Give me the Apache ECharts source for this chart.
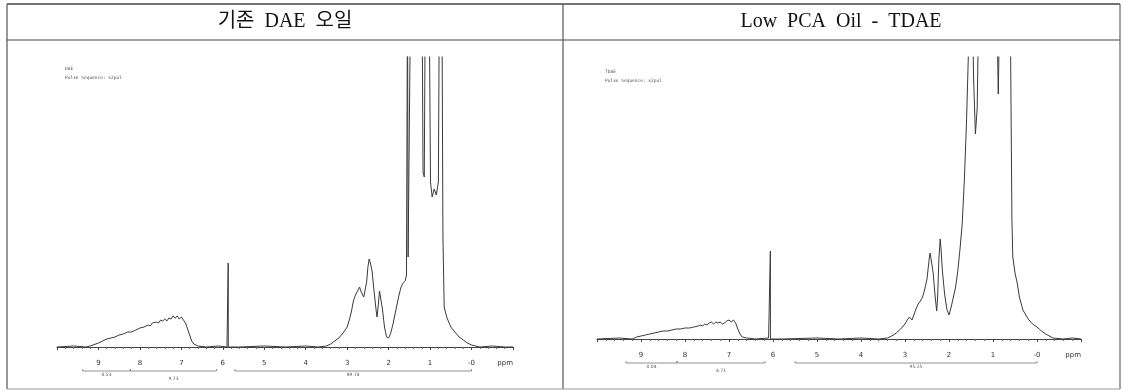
<!DOCTYPE html>
<html>
<head>
<meta charset="utf-8">
<script src="https://cdn.jsdelivr.net/npm/echarts/dist/echarts.min.js"></script>
<style>
  html, body { margin: 0; padding: 0; background: #fff; }
  #chart { width: 1122px; height: 391px; }
</style>
</head>
<body>
<div id="chart"></div>
<script>
// 헤더 (표 제목)
const titles = ['기존  DAE  오일', 'Low  PCA  Oil  -  TDAE'];
const sampleNames = ['DAE', 'TDAE'];
const pulseText = 'Pulse Sequence: s2pul';

// 1H NMR 스펙트럼 - 기존 DAE (ppm, 세기)
const ppmDAE = [10.0, 9.6, 9.3, 9.2, 9.0, 8.9, 8.8, 8.7, 8.6, 8.5, 8.4, 8.3, 8.2, 8.1, 8.0, 7.9, 7.8, 7.75, 7.7, 7.6,
  7.55, 7.5, 7.45, 7.4, 7.35, 7.3, 7.25, 7.2, 7.15, 7.1, 7.05, 7.0, 6.95, 6.9, 6.85, 6.8, 6.75, 6.7, 6.6, 6.4,
  6.1, 5.9, 5.872, 5.87, 5.868, 5.6, 5.0, 4.5, 4.0, 3.7, 3.5, 3.4, 3.3, 3.2, 3.1, 3.0, 2.95, 2.9, 2.85, 2.8,
  2.75, 2.7, 2.68, 2.65, 2.6, 2.57, 2.53, 2.5, 2.47, 2.44, 2.4, 2.35, 2.3, 2.28, 2.25, 2.22, 2.2, 2.15, 2.1, 2.05,
  2.0, 1.95, 1.9, 1.85, 1.8, 1.75, 1.7, 1.65, 1.6, 1.57, 1.545, 1.53, 1.49, 1.46, 1.3, 1.2, 1.17, 1.14, 1.11, 1.03,
  0.99, 0.95, 0.9, 0.85, 0.8, 0.77, 0.72, 0.69, 0.66, 0.6, 0.5, 0.4, 0.3, 0.2, 0.1, 0.0, -0.2, -0.5, -0.8, -1.0];
const intDAE = [0, 1, 0, 1, 4, 6, 8, 9, 10, 12, 13, 15, 15, 17, 19, 20, 22, 21, 24, 25,
  24, 27, 26, 28, 26, 29, 28, 31, 29, 31, 28, 30, 27, 24, 18, 12, 6, 3, 1, 0,
  1, 0, 0, 84, 0, 0, 1, 0, 1, 0, 1, 3, 6, 9, 14, 20, 27, 35, 46, 52,
  56, 60, 57, 54, 50, 52, 65, 80, 88, 84, 76, 55, 36, 30, 42, 56, 54, 38, 20, 10,
  9, 14, 22, 32, 42, 52, 60, 64, 66, 72, 360, 90, 92, 400, 400, 400, 175, 170, 400, 400,
  165, 150, 158, 152, 165, 400, 400, 110, 40, 30, 20, 15, 10, 7, 4, 2, 0, 1, 0, 0];

// 1H NMR 스펙트럼 - Low PCA Oil (TDAE)
const ppmTDAE = [10.0, 9.5, 9.2, 9.1, 9.0, 8.9, 8.8, 8.7, 8.6, 8.5, 8.4, 8.3, 8.2, 8.1, 8.0, 7.9, 7.8, 7.7, 7.65, 7.6,
  7.55, 7.5, 7.45, 7.4, 7.35, 7.3, 7.25, 7.2, 7.15, 7.1, 7.05, 7.0, 6.95, 6.9, 6.85, 6.8, 6.75, 6.7, 6.6, 6.4,
  6.1, 6.062, 6.06, 6.058, 5.8, 5.0, 4.5, 4.0, 3.6, 3.4, 3.3, 3.2, 3.1, 3.0, 2.95, 2.9, 2.87, 2.84, 2.8, 2.75,
  2.7, 2.65, 2.6, 2.55, 2.5, 2.45, 2.43, 2.4, 2.36, 2.32, 2.28, 2.26, 2.23, 2.2, 2.18, 2.15, 2.1, 2.05, 2.0, 1.95,
  1.9, 1.85, 1.8, 1.75, 1.7, 1.65, 1.6, 1.55, 1.5, 1.44, 1.4, 1.36, 1.3, 0.95, 0.9, 0.88, 0.86, 0.83, 0.62, 0.57,
  0.55, 0.5, 0.45, 0.4, 0.32, 0.2, 0.1, 0.0, -0.1, -0.2, -0.36, -0.6, -0.8, -1.0];
const intTDAE = [0, 1, 0, 2, 3, 4, 5, 6, 7, 8, 8, 9, 10, 10, 11, 11, 12, 13, 14, 13,
  15, 14, 16, 17, 15, 17, 16, 17, 15, 16, 18, 19, 17, 19, 16, 10, 5, 2, 1, 0,
  1, 0, 88, 0, 0, 1, 0, 1, 0, 1, 3, 6, 10, 15, 19, 22, 20, 19, 24, 30,
  35, 38, 42, 50, 60, 80, 86, 78, 66, 45, 28, 40, 80, 100, 90, 68, 45, 30, 24, 32,
  42, 52, 68, 90, 115, 160, 220, 300, 400, 260, 205, 230, 400, 400, 300, 245, 300, 400, 400, 120,
  82, 66, 56, 42, 29, 20, 15, 12, 8, 5, 1, 0, 1, 0];

// 적분 구간 (ppm) 과 적분값
const intRangesDAE = [[9.38, 8.23], [8.23, 6.15], [5.71, 0.0]];
const intLabelsDAE = ['0.53', '9.73', '89.74'];
const intRangesTDAE = [[9.34, 8.18], [8.18, 6.18], [5.5, 0.0]];
const intLabelsTDAE = ['0.04', '4.71', '95.25'];

const panels = [
  { ppm: ppmDAE, val: intDAE, ranges: intRangesDAE, labels: intLabelsDAE, yMax: 290,
    grid: { left: 57, width: 456, top: 57, height: 294 }, offset: 5 },
  { ppm: ppmTDAE, val: intTDAE, ranges: intRangesTDAE, labels: intLabelsTDAE, yMax: 282,
    grid: { left: 597, width: 484, top: 57, height: 286 }, offset: 5 }
];

const chart = echarts.init(document.getElementById('chart'), null, { renderer: 'canvas' });

const option = {
  animation: false,
  grid: panels.map(p => p.grid),
  xAxis: panels.map((p, i) => ({
    type: 'value',
    gridIndex: i,
    min: -1,
    max: 10,
    interval: 1,
    inverse: true,
    offset: p.offset,
    axisLine: { show: true, lineStyle: { color: '#444', width: 1 } },
    axisTick: { show: true, length: 3, lineStyle: { color: '#444' } },
    minorTick: { show: true, splitNumber: 5, length: 2, lineStyle: { color: '#666' } },
    splitLine: { show: false },
    axisLabel: {
      fontSize: 7,
      color: '#333',
      margin: 4,
      fontFamily: 'DejaVu Sans',
      formatter: v => (v === 0 ? '-0' : (v <= -1 || v >= 10 ? '' : String(v)))
    }
  })),
  yAxis: panels.map((p, i) => ({
    type: 'value',
    gridIndex: i,
    min: -4,
    max: p.yMax,
    show: false
  })),
  series: panels.map((p, i) => ({
    type: 'line',
    xAxisIndex: i,
    yAxisIndex: i,
    showSymbol: false,
    symbol: 'none',
    clip: true,
    lineStyle: { color: '#3a3a3a', width: 1 },
    data: p.ppm.map((x, k) => [x, p.val[k]])
  }))
};
chart.setOption(option);

// 표 테두리, 제목, 적분 표시
const graphics = [];
const line = (x1, y1, x2, y2, color, w) => graphics.push({
  type: 'line', silent: true,
  shape: { x1, y1, x2, y2 },
  style: { stroke: color, lineWidth: w }
});
line(7, 4, 1120, 4, '#444', 1.5);
line(7, 40, 1120, 40, '#444', 1.2);
line(7, 4, 7, 389, '#555', 1.2);
line(563, 4, 563, 389, '#555', 1.2);
line(1120, 4, 1120, 389, '#666', 1.2);
line(7, 389, 1120, 389, '#999', 1);

const cellCenters = [285, 841];
titles.forEach((t, i) => graphics.push({
  type: 'text', silent: true,
  style: {
    text: t, x: cellCenters[i], y: 22,
    fontSize: 20, fontFamily: '"Liberation Serif", "Noto Sans CJK KR"',
    fill: '#111', align: 'center', verticalAlign: 'middle'
  }
}));

panels.forEach((p, i) => {
  const axisY = chart.convertToPixel({ yAxisIndex: i }, -4) + p.offset;
  const px = v => chart.convertToPixel({ xAxisIndex: i }, v);
  const x0 = p.grid.left + 8;
  const yTop = p.grid.top + (i === 0 ? 7 : 10);
  graphics.push({
    type: 'text', silent: true,
    style: { text: sampleNames[i] + '\n' + pulseText, x: x0, y: yTop, fontSize: 4.5, lineHeight: 9,
      fontFamily: 'DejaVu Sans Mono', fill: '#555' }
  });
  // ppm 단위
  graphics.push({
    type: 'text', silent: true,
    style: { text: 'ppm', x: px(-1), y: axisY + 7, fontSize: 7, fontFamily: 'DejaVu Sans',
      fill: '#333', align: 'right', verticalAlign: 'middle' }
  });
  p.ranges.forEach((r, k) => {
    const xa = px(r[0]), xb = px(r[1]);
    const yb = axisY + 15;
    line(xa, yb, xb, yb, '#777', 0.8);
    line(xa, yb - 2, xa, yb, '#777', 0.8);
    line(xb, yb - 2, xb, yb, '#777', 0.8);
    graphics.push({
      type: 'text', silent: true,
      style: { text: p.labels[k], x: (xa + xb) / 2, y: yb + (k === 1 ? 8 : 4), fontSize: 4.5,
        fontFamily: 'DejaVu Sans', fill: '#555', align: 'center', verticalAlign: 'middle' }
    });
  });
});

chart.setOption({ graphic: graphics });
</script>
</body>
</html>
